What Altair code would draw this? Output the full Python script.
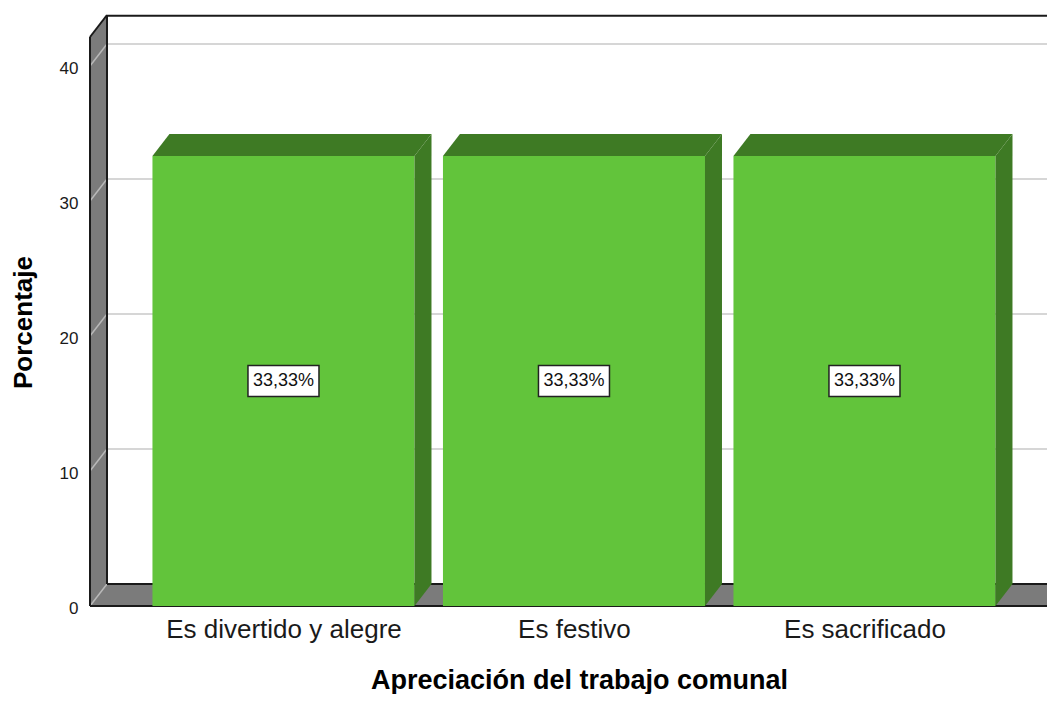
import json
import altair as alt
import pandas as pd

# ---- data ----
categories = ["Es divertido y alegre", "Es festivo", "Es sacrificado"]
values = [33.33, 33.33, 33.33]
y_ticks = [0, 10, 20, 30, 40]
x_title = "Apreciación del trabajo comunal"
y_title = "Porcentaje"

# ---- styling / 3D geometry (in scale units) ----
FONT = "Liberation Sans, Arial, sans-serif"
HALF = 0.451          # half bar width (band units)
DX = 0.0585           # depth offset in x (band units)
DY = 1.63             # depth offset in y (percent units)
X0 = -0.666           # front left edge of plot
W, H = 957, 591
XMAX = X0 + W / 290.5
YMAX = H / 13.5
FRONT = "#62C43B"
DARK = "#3E7A24"
WALL = "#7B7B7B"
EDGE = "#1a1a1a"

xs = alt.Scale(domain=[X0, XMAX], nice=False, zero=False)
ys = alt.Scale(domain=[0, YMAX], nice=False, zero=False)

labels = [f"{v:.2f}%".replace(".", ",") for v in values]
label_expr = "[" + ",".join(json.dumps(c) for c in categories) + "][datum.value]"

AX_X = alt.Axis(
    values=[0, 1, 2], labelExpr=label_expr, grid=False, ticks=False, domain=False,
    labelFontSize=26, labelPadding=10, labelColor="#1a1a1a", labelFlush=False,
    labelOverlap=False, labelLimit=500, title=x_title, titleFontSize=27,
    titleFontWeight="bold", titleColor="#000", titleX=489, titleY=82,
    titleBaseline="alphabetic", titleLimit=800)
AX_Y = alt.Axis(
    values=y_ticks, grid=False, ticks=False, domain=False, labelFontSize=17,
    labelPadding=12, labelOffset=2, labelColor="#1a1a1a", title=y_title,
    titleFontSize=26, titleFontWeight="bold", titleColor="#000",
    titleX=-59, titleY=307, titleBaseline="alphabetic")


def X():
    return alt.X("x:Q", scale=xs, axis=AX_X)


def Y():
    return alt.Y("y:Q", scale=ys, axis=AX_Y)


# back wall
wall_df = pd.DataFrame([{"x": X0 + DX, "x2": XMAX, "y": DY, "y2": YMAX}])
wall = alt.Chart(wall_df).mark_rect(fill="white").encode(
    x=X(), x2="x2:Q", y=Y(), y2="y2:Q")

# back gridlines
grid_df = pd.DataFrame([{"x": X0 + DX, "x2": XMAX, "y": t + DY} for t in y_ticks if t > 0])
grid = alt.Chart(grid_df).mark_rule(color="#d6d6d6", strokeWidth=2).encode(
    x=X(), x2="x2:Q", y=Y())

# floor
floor_df = pd.DataFrame([
    {"x": X0, "y": 0, "y2": 0},
    {"x": X0 + DX, "y": 0, "y2": DY},
    {"x": XMAX, "y": 0, "y2": DY},
])
floor = alt.Chart(floor_df).mark_area(fill=WALL).encode(x=X(), y=Y(), y2="y2:Q")

# left side wall
side_df = pd.DataFrame([
    {"x": X0, "y": 0, "y2": YMAX - DY},
    {"x": X0 + DX, "y": DY, "y2": YMAX},
])
side = alt.Chart(side_df).mark_area(fill=WALL).encode(x=X(), y=Y(), y2="y2:Q")

# side gridlines (diagonals)
sgrid_df = pd.DataFrame([{"x": X0, "x2": X0 + DX, "y": t, "y2": t + DY} for t in y_ticks])
sgrid = alt.Chart(sgrid_df).mark_rule(color="#b8b8b8", strokeWidth=1.5).encode(
    x=X(), x2="x2:Q", y=Y(), y2="y2:Q")

# black edges
edges_df = pd.DataFrame([
    {"x": X0, "x2": XMAX, "y": 0, "y2": 0},
    {"x": X0 + DX, "x2": XMAX, "y": DY, "y2": DY},
    {"x": X0, "x2": X0, "y": 0, "y2": YMAX - DY},
    {"x": X0, "x2": X0 + DX, "y": YMAX - DY, "y2": YMAX},
    {"x": X0 + DX, "x2": X0 + DX, "y": DY, "y2": YMAX},
    {"x": X0 + DX, "x2": XMAX, "y": YMAX - 0.05, "y2": YMAX - 0.05},
])
edges = alt.Chart(edges_df).mark_rule(color=EDGE, strokeWidth=2).encode(
    x=X(), x2="x2:Q", y=Y(), y2="y2:Q")

# bars
front_rows, top_rows, sidebar_rows, lab_rows = [], [], [], []
for i, (c, v, lab) in enumerate(zip(categories, values, labels)):
    a, b = i - HALF, i + HALF
    front_rows.append({"x": a, "x2": b, "y": 0, "y2": v, "cat": c})
    top_rows += [
        {"id": i, "x": a, "y": v, "y2": v},
        {"id": i, "x": a + DX, "y": v, "y2": v + DY},
        {"id": i, "x": b, "y": v, "y2": v + DY},
        {"id": i, "x": b + DX, "y": v + DY, "y2": v + DY},
    ]
    sidebar_rows += [
        {"id": i, "x": b, "y": 0, "y2": v},
        {"id": i, "x": b + DX, "y": DY, "y2": v + DY},
    ]
    lab_rows.append({"x": i, "y": v / 2, "label": lab})

fronts = alt.Chart(pd.DataFrame(front_rows)).mark_rect(fill=FRONT).encode(
    x=X(), x2="x2:Q", y=Y(), y2="y2:Q")
tops = alt.Chart(pd.DataFrame(top_rows)).mark_area(fill=DARK).encode(
    x=X(), y=Y(), y2="y2:Q", detail="id:N")
sides = alt.Chart(pd.DataFrame(sidebar_rows)).mark_area(fill=DARK).encode(
    x=X(), y=Y(), y2="y2:Q", detail="id:N")

lab_df = pd.DataFrame(lab_rows)
boxes = alt.Chart(lab_df).mark_point(
    shape="M-1,-0.437L1,-0.437L1,0.437L-1,0.437Z", size=5041, filled=True,
    fill="white", stroke="#222", strokeWidth=1.5, opacity=1,
).encode(x=X(), y=Y())
texts = alt.Chart(lab_df).mark_text(
    fontSize=18, color="#111", baseline="middle", align="center", font=FONT,
).encode(x=X(), y=Y(), text="label:N")

chart = alt.layer(
    wall, grid, floor, side, sgrid, edges, fronts, tops, sides, boxes, texts
).properties(
    width=W, height=H,
    autosize=alt.AutoSizeParams(type="none"),
    padding={"left": 82, "top": 7, "right": 0, "bottom": 88},
).configure(font=FONT).configure_view(strokeWidth=0)

chart.save("out.html", embed_options={"renderer": "svg", "actions": False})
